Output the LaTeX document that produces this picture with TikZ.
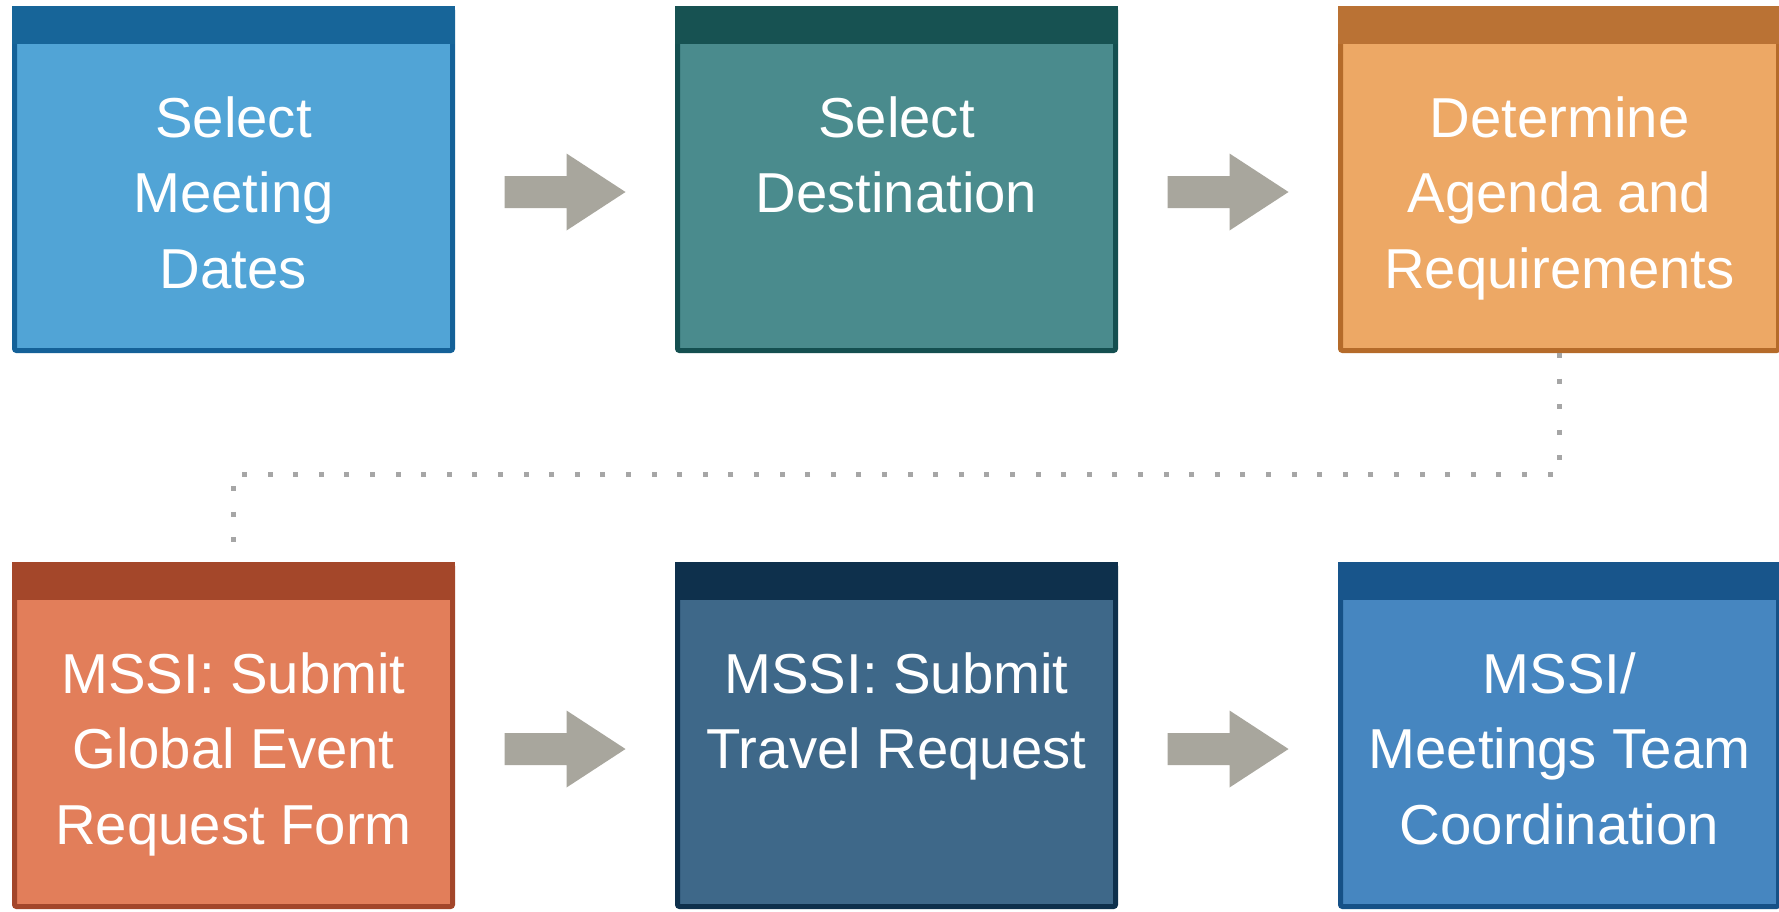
\documentclass[tikz,border=0pt]{standalone}
\usepackage{fontspec}
\setmainfont{Liberation Sans}
\usetikzlibrary{calc}
\definecolor{hdrA}{HTML}{176599}\definecolor{bodyA}{HTML}{51A4D6}\definecolor{brdA}{HTML}{146198}
\definecolor{hdrB}{HTML}{175252}\definecolor{bodyB}{HTML}{4A8B8D}\definecolor{brdB}{HTML}{144F50}
\definecolor{hdrC}{HTML}{BA7234}\definecolor{bodyC}{HTML}{EDA865}\definecolor{brdC}{HTML}{B56B2A}
\definecolor{hdrD}{HTML}{A4472A}\definecolor{bodyD}{HTML}{E27E5A}\definecolor{brdD}{HTML}{A3462A}
\definecolor{hdrE}{HTML}{0E304C}\definecolor{bodyE}{HTML}{3E6889}\definecolor{brdE}{HTML}{0E304C}
\definecolor{hdrF}{HTML}{18558B}\definecolor{bodyF}{HTML}{4686C0}\definecolor{brdF}{HTML}{165187}
\definecolor{arrowgray}{HTML}{A8A69D}
\definecolor{dotgray}{HTML}{A6A6A6}
\newcommand{\firststrut}{\rule{0pt}{50pt}}
\begin{document}
\begin{tikzpicture}[x=1pt,y=-1pt,
  stepbox/.style={rectangle, rounded corners=2pt, minimum width=438pt, minimum height=342pt, line width=5pt, inner sep=0pt},
  boxtext/.style={text=white, align=center, font=\fontsize{56.3}{75.5}\selectfont, anchor=north, inner sep=0pt},
  blockarrow/.style={fill=arrowgray},
  dotline/.style={draw=dotgray, line width=5pt, dash pattern=on 5pt off 20.6pt}
]
\fill[white] (0,0) rectangle (1779,911);
\clip (0,0) rectangle (1779,911);
% boxes
\node[stepbox, fill=bodyA, draw=brdA] (b1) at (233.5,179.5) {};
\node[stepbox, fill=bodyB, draw=brdB] (b2) at (896.5,179.5) {};
\node[stepbox, fill=bodyC, draw=brdC] (b3) at (1559.5,179.5) {};
\node[stepbox, fill=bodyD, draw=brdD] (b4) at (233.5,735.5) {};
\node[stepbox, fill=bodyE, draw=brdE] (b5) at (896.5,735.5) {};
\node[stepbox, fill=bodyF, draw=brdF] (b6) at (1559.5,735.5) {};
% headers
\foreach \b/\c in {b1/hdrA,b2/hdrB,b3/hdrC,b4/hdrD,b5/hdrE,b6/hdrF}{
  \fill[\c] (\b.north west) rectangle ($(\b.north east)+(0,38)$);
}
% texts (first baseline 131 below the box top)
\node[boxtext] (t1) at ($(b1.north)+(0,81)$) {\firststrut Select\\Meeting\\Dates};
\node[boxtext] (t2) at ($(b2.north)+(0,81)$) {\firststrut Select\\Destination};
\node[boxtext] (t3) at ($(b3.north)+(0,81)$) {\firststrut Determine\\Agenda and\\Requirements};
\node[boxtext] (t4) at ($(b4.north)+(0,81)$) {\firststrut MSSI: Submit\\Global Event\\Request Form};
\node[boxtext] (t5) at ($(b5.north)+(0,81)$) {\firststrut MSSI: Submit\\Travel Request};
\node[boxtext] (t6) at ($(b6.north)+(0,81)$) {\firststrut MSSI/\\Meetings Team\\Coordination};
% block arrows between boxes
\coordinate (a1) at ($($(b1.east)!0.5!(b2.west)$)+(0,12.5)$);
\coordinate (a2) at ($($(b2.east)!0.5!(b3.west)$)+(0,12.5)$);
\coordinate (a3) at ($($(b4.east)!0.5!(b5.west)$)+(0,13.5)$);
\coordinate (a4) at ($($(b5.east)!0.5!(b6.west)$)+(0,13.5)$);
\foreach \a in {a1,a2,a3,a4}{
  \fill[blockarrow] ($(\a)+(-60.5,-16)$) -- ($(\a)+(1.5,-16)$) -- ($(\a)+(1.5,-38.5)$)
    -- ($(\a)+(60.5,0)$) -- ($(\a)+(1.5,38.5)$) -- ($(\a)+(1.5,16)$) -- ($(\a)+(-60.5,16)$) -- cycle;
}
% dotted connector
\coordinate (turn) at ($(b3.south)+(0,121)$);
\draw[dotline] (b3.south) -- (turn) -| (b4.north);
\end{tikzpicture}
\end{document}
